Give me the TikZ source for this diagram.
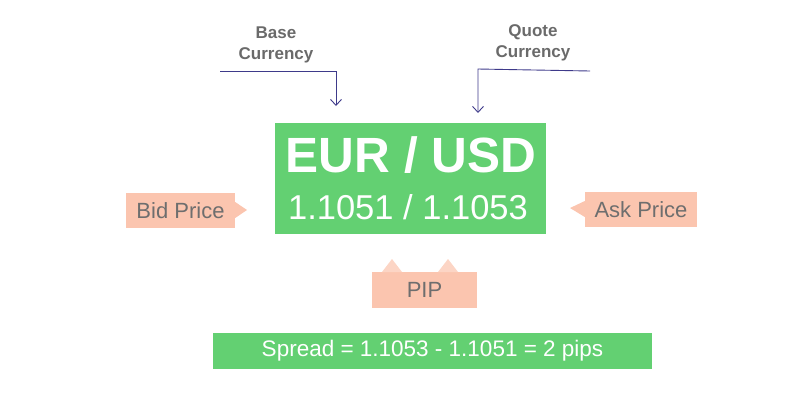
\documentclass[tikz,border=0pt]{standalone}
\usepackage{fontspec}
\setmainfont{Liberation Sans}
\usetikzlibrary{arrows.meta,positioning}
\definecolor{fxgreen}{HTML}{63D072}
\definecolor{peach}{HTML}{FBC5AF}
\definecolor{peachlt}{HTML}{FCD5C5}
\definecolor{txtgray}{HTML}{6E6E6E}
\definecolor{lblgray}{HTML}{6A6A6A}
\definecolor{navy}{HTML}{3E3A8A}
\begin{document}
\begin{tikzpicture}[x=1pt,y=-1pt,
  greenbox/.style={fill=fxgreen,draw=none,inner sep=0pt},
  peachbox/.style={fill=peach,draw=none,inner sep=0pt,text=txtgray,font=\fontsize{22}{26}\selectfont},
  toplabel/.style={text=lblgray,font=\bfseries\fontsize{17}{21}\selectfont,align=center,inner sep=0pt},
  pointer/.style={navy,line width=0.9pt,-{Straight Barb[length=6pt,width=11pt]}}]
\useasboundingbox (0,0) rectangle (800,400);
% main green box
\node[greenbox,minimum width=271pt,minimum height=111pt] (pair) at (410.5,178.5) {};
\node[text=white,font=\bfseries\fontsize{49.5}{52}\selectfont,inner sep=0pt] (pairtxt) at (411,155.5) {EUR / USD};
\node[text=white,font=\fontsize{34.5}{38}\selectfont,inner sep=0pt] (quote) at (408,207) {1.1051 / 1.1053};
% top labels
\node[toplabel] (baselbl) at (276,44.5) {Base\\Currency};
\node[toplabel] (quotelbl) at (533,42.5) {Quote\\Currency};
% connectors
\coordinate (bstart) at (220,71);
\coordinate (btip) at (336,106);
\coordinate (qstart) at (590,71);
\coordinate (qtip) at (478,113);
\draw[pointer] (bstart) -| (btip);
\draw[pointer] (qstart) -- (478,69) -- (qtip);
% bid price
\node[peachbox,minimum width=109pt,minimum height=35pt] (bid) at (180.5,210.5) {Bid Price};
\fill[peach] (bid.east |- 0,202) -- (247,210) -- (bid.east |- 0,218) -- cycle;
% ask price
\node[peachbox,minimum width=112pt,minimum height=35pt] (ask) at (641,209.5) {Ask Price};
\fill[peach] (ask.west |- 0,201) -- (570,208) -- (ask.west |- 0,217) -- cycle;
% pip
\node[peachbox,minimum width=105pt,minimum height=36pt] (pip) at (424.5,290) {PIP};
\fill[peachlt] (382,272) -- (392,259) -- (402,272) -- cycle;
\fill[peachlt] (438,272) -- (448,259) -- (458,272) -- cycle;
% spread
\node[greenbox,minimum width=439pt,minimum height=36pt,text=white,font=\fontsize{22.5}{26}\selectfont] (spread) at (432.5,351) {Spread = 1.1053 - 1.1051 = 2 pips};
\end{tikzpicture}
\end{document}
